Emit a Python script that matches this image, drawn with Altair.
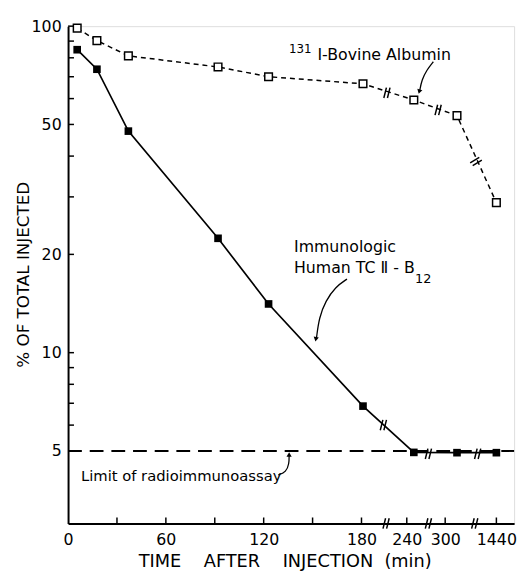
import altair as alt
import pandas as pd

# ---- data ----
times = [5.6, 17.7, 37, 92, 123, 182, 251, 563, 1440]
albumin = [98.6, 90.3, 81.1, 75.0, 70.0, 66.6, 59.4, 53.2, 28.8]
tc2 = [84.7, 73.8, 47.7, 22.4, 14.1, 6.86, 4.95, 4.94, 4.94]

x_labels = [0, 60, 120, 180, 240, 300, 1440]
x_ticks = [30, 60, 90, 120, 150, 180, 240, 300, 1440]
y_labels = [5, 10, 20, 50, 100]
y_ticks = [100, 90, 80, 70, 60, 50, 40, 30, 20, 10, 9, 8, 7, 6, 5]
limit_value = 5

# broken-axis segments (time breakpoints)
x_break_domain = [0, 180, 240, 300, 1440, 1800]

# break marks "//" (time, value, rotation)
brk_t = [212.6, 273.8, 957.7, 273.8, 1023, 209, 213.7, 289, 986]
brk_v = [3.0, 3.0, 3.0, 4.9, 4.9, 6.0, 62.5, 55.4, 38.5]
brk_a = [0, 0, 0, 0, 0, 0, 0, 0, 45]

# annotation arrows (curves in data space)
arr_id = [0, 0, 0, 0, 1, 1, 1, 1, 1, 2, 2, 2, 2]
arr_t = [281.5, 271.2, 263.5, 260, 171.1, 164.0, 158.0, 154.0, 152.4, 128.9, 133.8, 135.6, 135.6]
arr_v = [77.8, 73.4, 68.5, 63.2, 16.8, 15.9, 14.4, 12.8, 11.1, 4.22, 4.31, 4.57, 4.84]
head_t = [259.5, 152.0, 135.6]
head_v = [63.0, 11.0, 4.88]
head_a = [195, 190, 0]

# text annotations
NB = "\u00a0"
txt = ["I-Bovine Albumin", "131", "Immunologic", "Human TC \u2161 - B", "12", "Limit of radioimmunoassay"]
txt_t = [153, 135.5, 138.6, 138.6, 253, 7.9]
txt_v = [81.3, 85.3, 21.1, 18.1, 16.8, 4.2]
txt_s = [16, 12, 16, 16, 13, 15]

W, H = 453, 505
FONT = "DejaVu Sans"

df = pd.DataFrame({"t": times, "alb": albumin, "tc": tc2})
xscale = alt.Scale(domain=x_break_domain, range=[0, 298, 344, 383, 435, 453], nice=False, zero=False)
yscale = alt.Scale(type="log", domain=[3, 100], nice=False)

x_title = "TIME" + NB * 4 + "AFTER" + NB * 4 + "INJECTION" + NB * 2 + "(min)"
xaxis = alt.Axis(values=x_labels, format="d", ticks=False, grid=False, domainColor="black",
                 domainWidth=2, labelFont=FONT, labelFontSize=16, labelColor="black", labelPadding=8,
                 title=x_title, titleFont=FONT, titleFontSize=18,
                 titleFontWeight="normal", titleColor="black", titleX=220, titleY=39,
                 titleBaseline="middle", labelFlush=False, labelOverlap=False)
yaxis = alt.Axis(values=y_labels, format="d", ticks=False, grid=False, domainColor="black",
                 domainWidth=2, labelFont=FONT, labelFontSize=16, labelColor="black", labelPadding=7,
                 title="% OF TOTAL INJECTED", titleFont=FONT, titleFontSize=17,
                 titleFontWeight="normal", titleColor="black", titleX=-45, titleY=252,
                 titleBaseline="middle", labelFlush=False, labelOverlap=False)

base = alt.Chart(df)

tc_line = base.mark_line(color="black", strokeWidth=1.7).encode(
    x=alt.X("t:Q", scale=xscale, axis=xaxis),
    y=alt.Y("tc:Q", scale=yscale, axis=yaxis),
)
alb_line = base.mark_line(color="black", strokeWidth=1.5, strokeDash=[5, 4]).encode(
    x=alt.X("t:Q", scale=xscale), y=alt.Y("alb:Q", scale=yscale))

limit_df = pd.DataFrame({"t0": [0], "t1": [1800], "v": [limit_value]})
limit_rule = alt.Chart(limit_df).mark_rule(color="black", strokeWidth=2, strokeDash=[14, 8]).encode(
    x=alt.X("t0:Q", scale=xscale), x2="t1:Q", y=alt.Y("v:Q", scale=yscale))

tc_pts = base.mark_point(shape="square", filled=True, color="black", size=60, opacity=1).encode(
    x=alt.X("t:Q", scale=xscale), y=alt.Y("tc:Q", scale=yscale))
alb_pts = base.mark_point(shape="square", filled=True, fill="white", stroke="black",
                          strokeWidth=1.5, size=60, opacity=1).encode(
    x=alt.X("t:Q", scale=xscale), y=alt.Y("alb:Q", scale=yscale))

xt_df = pd.DataFrame({"t": x_ticks})
x_tick_marks = alt.Chart(xt_df).mark_rule(color="black", strokeWidth=1.5).encode(
    x=alt.X("t:Q", scale=xscale), y=alt.value(H), y2=alt.value(H - 6))
yt_df = pd.DataFrame({"v": y_ticks})
y_tick_marks = alt.Chart(yt_df).mark_rule(color="black", strokeWidth=1.5).encode(
    y=alt.Y("v:Q", scale=yscale), x=alt.value(0), x2=alt.value(6))

brk_df = pd.DataFrame({"t": brk_t, "v": brk_v, "a": brk_a})
breaks = alt.Chart(brk_df).mark_point(
    shape="M-0.6,1L-0.1,-1M0.1,1L0.6,-1", filled=False, stroke="black", strokeWidth=1.5,
    size=110, opacity=1).encode(
    x=alt.X("t:Q", scale=xscale), y=alt.Y("v:Q", scale=yscale), angle=alt.Angle("a:Q", scale=None))

arr_df = pd.DataFrame({"id": arr_id, "t": arr_t, "v": arr_v, "o": list(range(len(arr_t)))})
arrows = alt.Chart(arr_df).mark_line(color="black", strokeWidth=1.3, interpolate="basis").encode(
    x=alt.X("t:Q", scale=xscale), y=alt.Y("v:Q", scale=yscale), detail="id:N", order="o:Q")
head_df = pd.DataFrame({"t": head_t, "v": head_v, "a": head_a})
heads = alt.Chart(head_df).mark_point(shape="triangle-up", filled=True, color="black", size=28,
                                      opacity=1).encode(
    x=alt.X("t:Q", scale=xscale), y=alt.Y("v:Q", scale=yscale), angle=alt.Angle("a:Q", scale=None))

txt_df = pd.DataFrame({"txt": txt, "t": txt_t, "v": txt_v, "s": txt_s})
texts = alt.Chart(txt_df).mark_text(align="left", baseline="middle", font=FONT, color="black").encode(
    x=alt.X("t:Q", scale=xscale), y=alt.Y("v:Q", scale=yscale), text="txt:N",
    size=alt.Size("s:Q", scale=None))

chart = alt.layer(limit_rule, alb_line, tc_line, x_tick_marks, y_tick_marks, breaks, arrows, heads,
                  alb_pts, tc_pts, texts).properties(
    width=W, height=H, autosize=alt.AutoSizeParams(type="none"),
    padding={"left": 61, "top": 14, "right": 7, "bottom": 50},
).configure_view(stroke=None).configure(background="white")

chart.save("out.html", embed_options={"renderer": "svg", "actions": False})
